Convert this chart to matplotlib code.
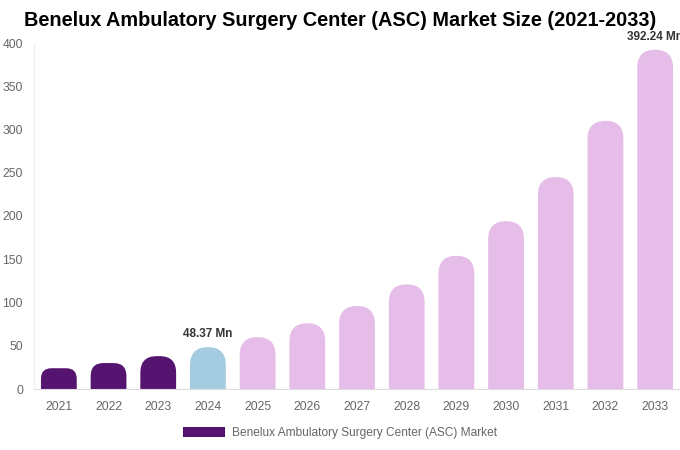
import matplotlib
matplotlib.use("Agg")
import matplotlib.pyplot as plt
from matplotlib.patches import FancyBboxPatch, Patch

plt.rcParams['font.family'] = ['Liberation Sans', 'DejaVu Sans']

years = ["2021", "2022", "2023", "2024", "2025", "2026", "2027",
         "2028", "2029", "2030", "2031", "2032", "2033"]
values = [24, 30, 38, 48.37, 60, 76, 96, 121, 154, 194, 245, 310, 392.24]
bar_colors = ["#551470"] * 3 + ["#a4cbdf"] + ["#e6bce8"] * 9
labels = {3: "48.37 Mn", 12: "392.24 Mn"}

W, H = 680, 450
fig = plt.figure(figsize=(W / 100, H / 100), dpi=100)
ax = fig.add_axes([34 / W, 61 / H, 646 / W, 346 / H])
ax.set_xlim(-0.5, len(years) - 0.5)
ax.set_ylim(0, 400)

# pixel scale, used to get round tops
px_x = 646 / len(years)
px_y = 346 / 400
bw = 0.72
for i, (v, c) in enumerate(zip(values, bar_colors)):
    r_px = min(bw * px_x / 2, v * px_y / 2)
    rx = r_px / px_x
    ry = r_px / px_y
    box = FancyBboxPatch((i - bw / 2, -ry), bw, v + ry,
                         boxstyle=f"round,pad=0,rounding_size={rx}",
                         mutation_aspect=ry / rx, fc=c, ec="none")
    ax.add_patch(box)
    if i in labels:
        ax.text(i, v + 8, labels[i], ha="center", va="bottom",
                fontsize=8.5, fontweight="bold", color="#333333", clip_on=False)

ax.set_xticks(range(len(years)))
ax.set_xticklabels(years)
ax.set_yticks(range(0, 401, 50))
ax.tick_params(axis="both", length=0, labelsize=8.7, colors="#666666")
ax.tick_params(axis="x", pad=9)
ax.tick_params(axis="y", pad=8)
for s in ["top", "right"]:
    ax.spines[s].set_visible(False)
ax.spines["left"].set_color("#eeeeee")
ax.spines["bottom"].set_color("#dddddd")

fig.text(340 / W, 1 - 21 / H, "Benelux Ambulatory Surgery Center (ASC) Market Size (2021-2033)",
         ha="center", va="center", fontsize=14.3, fontweight="bold", color="#000000")

leg = fig.legend(handles=[Patch(fc="#551470", ec="none",
                                label="Benelux Ambulatory Surgery Center (ASC) Market")],
                 loc="center", bbox_to_anchor=(340 / W, 1 - 433 / H), frameon=False,
                 fontsize=8.6, handlelength=3.5, handleheight=0.95, handletextpad=0.6)
for t in leg.get_texts():
    t.set_color("#666666")

fig.savefig("out.png", dpi=100)
